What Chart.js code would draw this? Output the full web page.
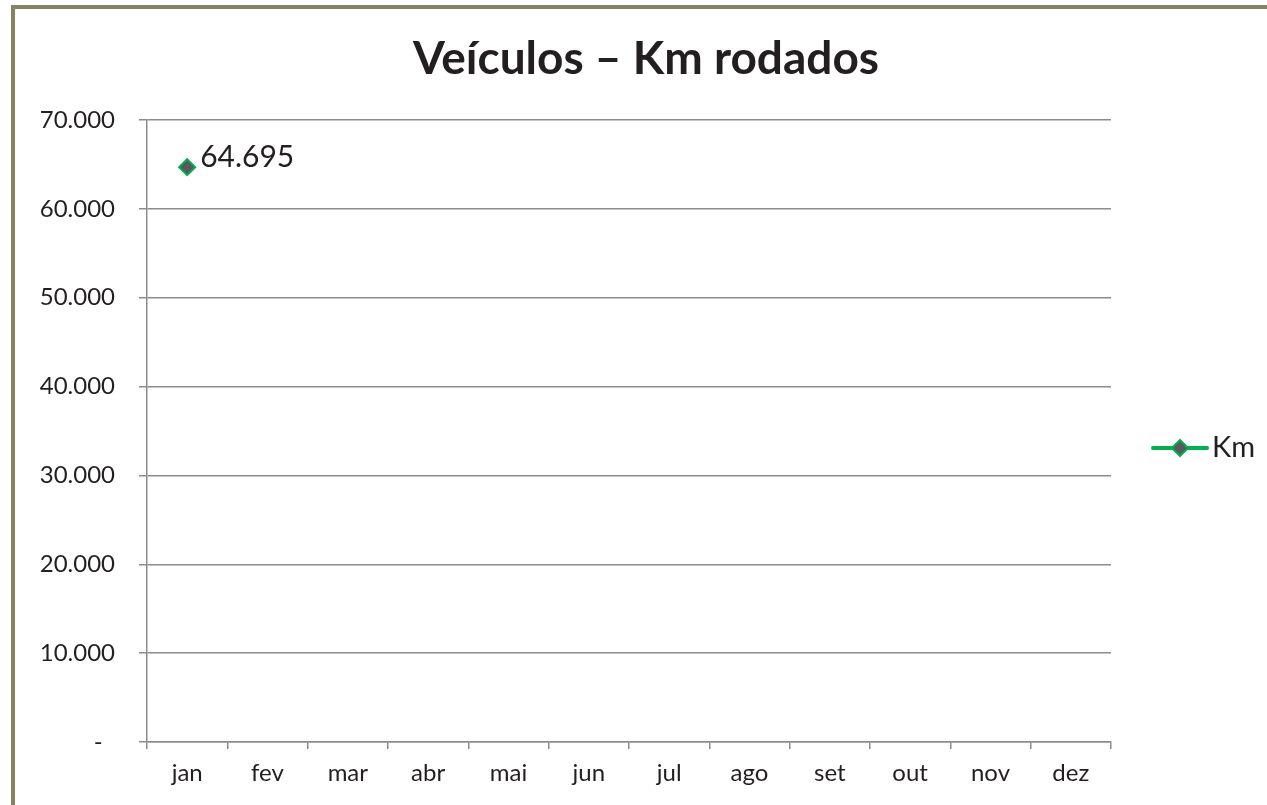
<!DOCTYPE html>
<html>
<head>
<meta charset="utf-8">
<script src="https://cdn.jsdelivr.net/npm/chart.js@4/dist/chart.umd.min.js"></script>
<style>
  html, body { margin: 0; padding: 0; background: #fff; overflow: hidden; }
  #moldura { position: absolute; left: 11px; top: 5px; width: 1400px; height: 1000px;
             border-left: 4px solid #878360; border-top: 4px solid #878360; }
  #grafico { position: absolute; left: 0; top: 0; }
</style>
</head>
<body>
<div id="moldura"></div>
<canvas id="grafico" width="1267" height="805"></canvas>
<script>
// dados
const meses = ['jan', 'fev', 'mar', 'abr', 'mai', 'jun', 'jul', 'ago', 'set', 'out', 'nov', 'dez']
const kmRodados = [64695, null, null, null, null, null, null, null, null, null, null, null]
const tituloGrafico = 'Veículos – Km rodados'
const nomeSerie = 'Km'
const eixoMax = 70000
const eixoPasso = 10000

const corTexto = '#231F20'
const verde = '#00B050'
const cinzaPonto = '#595959'
const cinzaGrade = '#8c8c8c'
const fonte = 'Lato'

function formataNumero(v) {
  if (v === 0) return '-  ' // formato contabil: traco com recuo
  return String(v).replace(/\B(?=(\d{3})+(?!\d))/g, '.')
}

// titulo centrado na janela toda (nao so na area do grafico)
const tituloPlugin = {
  id: 'titulo',
  afterDraw(chart) {
    const ctx = chart.ctx
    ctx.save()
    ctx.font = 'bold 46px ' + fonte
    ctx.fillStyle = corTexto
    ctx.textAlign = 'center'
    ctx.textBaseline = 'alphabetic'
    ctx.fillText(tituloGrafico, 646, 74)
    ctx.restore()
  }
}

// rotulo de dados ao lado do ponto
const rotulosPlugin = {
  id: 'rotulos',
  afterDatasetsDraw(chart) {
    const ctx = chart.ctx
    const meta = chart.getDatasetMeta(0)
    ctx.save()
    ctx.font = '30px ' + fonte
    ctx.fillStyle = corTexto
    ctx.textAlign = 'left'
    ctx.textBaseline = 'middle'
    meta.data.forEach((pt, i) => {
      const v = chart.data.datasets[0].data[i]
      if (v == null) return
      ctx.fillText(formataNumero(v), pt.x + 13, pt.y - 10)
    })
    ctx.restore()
  }
}

// legenda a direita (linha + losango)
const legendaPlugin = {
  id: 'legendaKm',
  afterDraw(chart) {
    const ctx = chart.ctx
    const a = chart.chartArea
    const x0 = a.right + 42
    const y = (a.top + a.bottom) / 2 + 17
    ctx.save()
    ctx.strokeStyle = verde
    ctx.lineWidth = 4
    ctx.lineCap = 'round'
    ctx.beginPath()
    ctx.moveTo(x0, y)
    ctx.lineTo(x0 + 54, y)
    ctx.stroke()
    ctx.fillStyle = cinzaPonto
    ctx.lineWidth = 2
    ctx.beginPath()
    ctx.moveTo(x0 + 27, y - 8)
    ctx.lineTo(x0 + 35, y)
    ctx.lineTo(x0 + 27, y + 8)
    ctx.lineTo(x0 + 19, y)
    ctx.closePath()
    ctx.fill()
    ctx.stroke()
    ctx.font = '29px ' + fonte
    ctx.fillStyle = corTexto
    ctx.textBaseline = 'middle'
    ctx.fillText(nomeSerie, x0 + 59, y)
    ctx.restore()
  }
}

let chart = new Chart(document.getElementById('grafico'), {
  type: 'line',
  data: {
    labels: meses,
    datasets: [{
      label: nomeSerie,
      data: kmRodados,
      borderColor: verde,
      borderWidth: 4,
      pointStyle: 'rectRot',
      pointRadius: 8,
      pointBorderWidth: 2,
      pointBackgroundColor: cinzaPonto,
      pointBorderColor: verde,
      spanGaps: false
    }]
  },
  options: {
    responsive: false,
    animation: false,
    layout: { padding: { left: 0, right: 156, top: 120, bottom: 0 } },
    plugins: {
      legend: { display: false },
      tooltip: { enabled: false },
      title: { display: false }
    },
    scales: {
      x: {
        offset: true,
        grid: {
          offset: true,
          drawOnChartArea: false,
          drawTicks: true,
          tickLength: 7,
          color: cinzaGrade,
          lineWidth: 1.5
        },
        border: { color: cinzaGrade, width: 1.5 },
        ticks: { color: corTexto, font: { family: fonte, size: 24 }, padding: 10, maxRotation: 0 },
        afterFit(scale) { scale.height = 63 }
      },
      y: {
        min: 0,
        max: eixoMax,
        grid: { color: cinzaGrade, lineWidth: 1.5, tickLength: 8 },
        border: { color: cinzaGrade, width: 1.5 },
        ticks: {
          stepSize: eixoPasso,
          color: corTexto,
          font: { family: fonte, size: 24 },
          padding: 24,
          callback: v => formataNumero(v)
        },
        afterFit(scale) { scale.width = 147 }
      }
    }
  },
  plugins: [rotulosPlugin, legendaPlugin, tituloPlugin]
})
</script>
</body>
</html>
